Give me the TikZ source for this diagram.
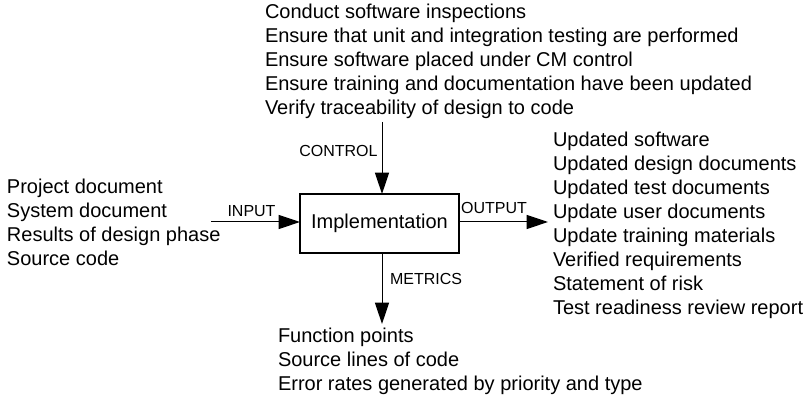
\documentclass[tikz,border=0pt]{standalone}
\usepackage{fontspec}
\setmainfont{Liberation Sans}
\usetikzlibrary{arrows.meta,positioning}

\begin{document}
\begin{tikzpicture}[x=0.75pt,y=-0.75pt,
          every node/.style={inner sep=0pt,outer sep=0pt},
          block/.style={draw,line width=0.8pt,minimum width=119.25pt,minimum height=44.25pt,font=\fontsize{15}{18}\selectfont},
          list/.style={align=left,anchor=north west,font=\fontsize{15}{18}\selectfont},
          tag/.style={font=\fontsize{12}{14}\selectfont},
          flow/.style={line width=0.75pt,-{Triangle[length=16pt,width=10.5pt]}}]
  \useasboundingbox (0,0) rectangle (808,398);

                \node[block] (impl) at (379.5,223.5) {Implementation};

                \coordinate (ctrl) at (382,122);
                \coordinate (in) at (211,222);
                \coordinate (out) at (548,222);
                \coordinate (met) at (382,324);

                \draw[flow] (ctrl) -- (ctrl |- impl.north);
                \draw[flow] (in) -- (in -| impl.west);
                \draw[flow] (in -| impl.east) -- (out);
                \draw[flow] (met |- impl.south) -- (met);

                \node[tag,anchor=east] (ctrltag) at (377.5,151) {CONTROL};
                \node[tag] (intag) at (251.5,211) {INPUT};
                \node[tag] (outtag) at (494,208) {OUTPUT};
                \node[tag,anchor=west] (mettag) at (390,279) {METRICS};

                \node[list] (ctrllist) at (265,4.5) {Conduct software inspections\\
                  Ensure that unit and integration testing are performed\\
                  Ensure software placed under CM control\\
                  Ensure training and documentation have been updated\\
                  Verify traceability of design to code};
                \node[list] (inlist) at (7,179) {Project document\\
                  System document\\
                  Results of design phase\\
                  Source code};
                \node[list] (outlist) at (553,132) {Updated software\\
                  Updated design documents\\
                  Updated test documents\\
                  Update user documents\\
                  Update training materials\\
                  Verified requirements\\
                  Statement of risk\\
                  Test readiness review report};
                \node[list] (metlist) at (278,328.5) {Function points\\
                  Source lines of code\\
                  Error rates generated by priority and type};
\end{tikzpicture}
\end{document}
